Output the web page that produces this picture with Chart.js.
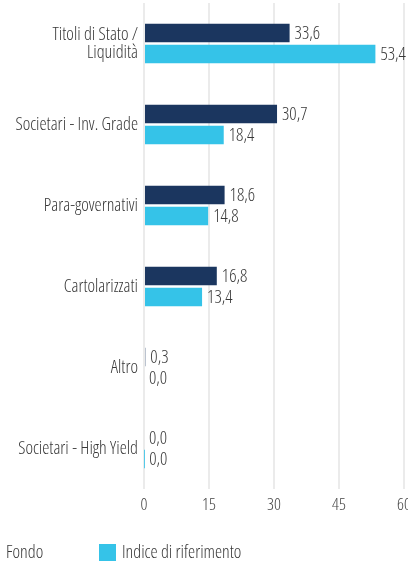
<!DOCTYPE html>
<html>
<head>
<meta charset="utf-8">
<script src="https://cdn.jsdelivr.net/npm/chart.js@4.4.1/dist/chart.umd.min.js"></script>
<style>
  html, body { margin: 0; padding: 0; background: #fff; }
  #wrap { width: 408px; height: 564px; position: relative; }
</style>
</head>
<body>
<div id="wrap"><canvas id="c"></canvas></div>
<script>
const CATEGORIES = [['Titoli di Stato /', 'Liquidità'], 'Societari - Inv. Grade', 'Para-governativi', 'Cartolarizzati', 'Altro', 'Societari - High Yield'];
const FONDO = [33.6, 30.7, 18.6, 16.8, 0.3, 0.0];
const INDICE = [53.4, 18.4, 14.8, 13.4, 0.0, 0.04];
const X_TICKS = [0, 15, 30, 45, 60];
const SERIES_NAMES = ['Fondo', 'Indice di riferimento'];

// condensed face of Open Sans (wdth axis), closest to the narrow font of the original
const FAMILY = "'Open Sans', sans-serif";
const WEIGHT = '350 condensed';
const fontStr = (size) => `${WEIGHT} ${size}px ${FAMILY}`;
const TXT = '#383838';
const fmt = (v) => v.toFixed(1).replace('.', ',');

const valueLabels = {
    id: 'valueLabels',
    afterDatasetsDraw(chart) {
        const ctx = chart.ctx;
        ctx.save();
        ctx.font = fontStr(18);
        ctx.fillStyle = TXT;
        ctx.textBaseline = 'middle';
        ctx.textAlign = 'left';
        chart.data.datasets.forEach((ds, i) => {
            chart.getDatasetMeta(i).data.forEach((bar, j) => {
                ctx.fillText(fmt(ds.data[j]), bar.x + 5, bar.y + 1);
            });
        });
        ctx.restore();
    },
};

const bottomLegend = {
    id: 'bottomLegend',
    afterDraw(chart) {
        const ctx = chart.ctx;
        ctx.save();
        ctx.font = fontStr(18);
        ctx.fillStyle = TXT;
        ctx.textBaseline = 'middle';
        ctx.fillText(SERIES_NAMES[0], 6, 553);
        ctx.fillStyle = chart.data.datasets[1].backgroundColor;
        ctx.fillRect(99, 544, 17, 17);
        ctx.fillStyle = TXT;
        ctx.fillText(SERIES_NAMES[1], 122, 553);
        ctx.restore();
    },
};

new Chart(document.getElementById('c'), {
    type: 'bar',
    data: {
        labels: CATEGORIES,
        datasets: [
            { label: SERIES_NAMES[0], data: FONDO, backgroundColor: '#1b365f', categoryPercentage: 0.52, barPercentage: 0.88 },
            { label: SERIES_NAMES[1], data: INDICE, backgroundColor: '#35c3e8', categoryPercentage: 0.52, barPercentage: 0.88 },
        ],
    },
    options: {
        indexAxis: 'y',
        responsive: true,
        maintainAspectRatio: false,
        animation: false,
        layout: { padding: { top: 3, right: 4, bottom: 45, left: 0 } },
        plugins: { legend: { display: false }, tooltip: { enabled: false } },
        scales: {
            x: {
                min: 0, max: 60,
                afterBuildTicks: (s) => { s.ticks = X_TICKS.map((v) => ({ value: v })); },
                afterFit: (s) => { s.height = 30; s.paddingLeft = 0; s.paddingRight = 0; },
                grid: { color: '#ebebeb', lineWidth: 2, drawTicks: false },
                border: { display: false },
                ticks: { color: '#454545', font: { family: FAMILY, weight: WEIGHT, size: 17 }, padding: 6 },
            },
            y: {
                afterFit: (s) => { s.width = 144; s.paddingTop = 0; s.paddingBottom = 0; },
                grid: { display: false, drawTicks: false },
                border: { display: false },
                ticks: { color: TXT, font: { family: FAMILY, weight: WEIGHT, size: 18, lineHeight: 1 }, padding: 6 },
            },
        },
    },
    plugins: [valueLabels, bottomLegend],
});
</script>
</body>
</html>
